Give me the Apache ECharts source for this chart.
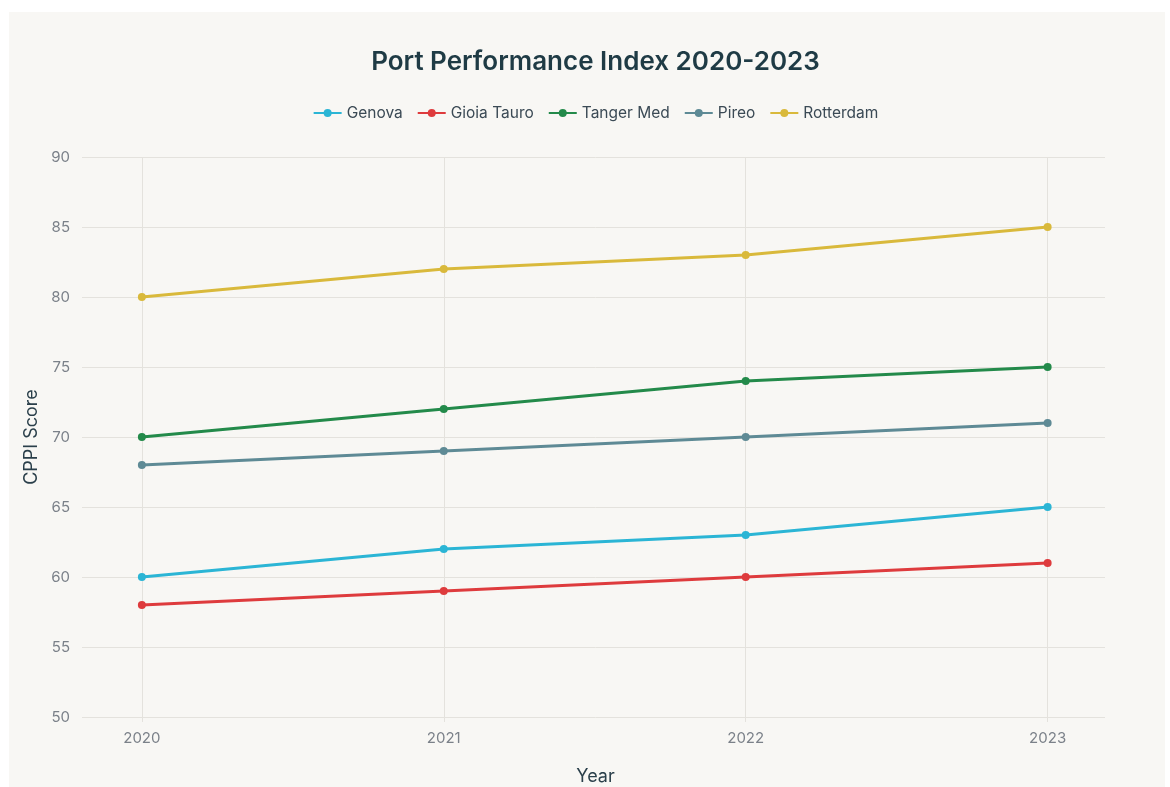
<!DOCTYPE html>
<html><head><meta charset="utf-8">
<script src="https://cdn.jsdelivr.net/npm/echarts@6/dist/echarts.min.js"></script>
<style>html,body{margin:0;padding:0;background:#fff;overflow:hidden;}#c{width:1191px;height:787px;}</style>
</head><body><div id="c"></div>
<script>
const years = [2020, 2021, 2022, 2023];
const genova = [60, 62, 63, 65];
const gioiaTauro = [58, 59, 60, 61];
const tangerMed = [70, 72, 74, 75];
const pireo = [68, 69, 70, 71];
const rotterdam = [80, 82, 83, 85];
const seriesNames = ['Genova', 'Gioia Tauro', 'Tanger Med', 'Pireo', 'Rotterdam'];
const seriesData = [genova, gioiaTauro, tangerMed, pireo, rotterdam];
const colors = ['#2bb5d5', '#de3b3d', '#238a4a', '#5e8a95', '#d9b93b'];

const chart = echarts.init(document.getElementById('c'));
const font = 'Inter, "Noto Sans", sans-serif';
chart.setOption({
  backgroundColor: '#ffffff',
  graphic: [{type: 'rect', z: -10, silent: true, shape: {x: 9, y: 12, width: 1156, height: 775}, style: {fill: '#f8f7f4'}}],
  title: {text: 'Port Performance Index 2020-2023', left: 'center', top: 44,
    textStyle: {fontFamily: font, fontSize: 26, fontWeight: 600, color: '#1f3b45'}},
  legend: {top: 100, left: 'center', itemWidth: 28, itemHeight: 10, itemGap: 14,
    textStyle: {fontFamily: font, fontSize: 15.5, color: '#3b4a55'}},
  grid: {left: 86, right: 86, top: 157, bottom: 70, outerBoundsMode: 'none', containLabel: false},
  xAxis: {type: 'value', min: 2019.815, max: 2023.19,
    name: 'Year', nameLocation: 'middle', nameGap: 51,
    nameTextStyle: {fontFamily: font, fontSize: 18, color: '#2a3f4a'},
    axisLine: {show: false},
    axisTick: {show: true, customValues: years, length: 5, lineStyle: {color: '#e4e2dd'}},
    axisLabel: {customValues: years, formatter: v => String(v), margin: 14,
      fontFamily: font, fontSize: 15, color: '#7b8189'},
    splitLine: {show: true, lineStyle: {color: '#e4e2dd', width: 1}}},
  yAxis: {type: 'value', min: 50, max: 90, interval: 5,
    name: 'CPPI Score', nameLocation: 'middle', nameGap: 45,
    nameTextStyle: {fontFamily: font, fontSize: 18, color: '#2a3f4a'},
    axisLine: {show: false},
    axisTick: {show: true, length: 4, lineStyle: {color: '#e4e2dd'}},
    axisLabel: {margin: 16, fontFamily: font, fontSize: 15, color: '#7b8189'},
    splitLine: {show: true, lineStyle: {color: '#e4e2dd', width: 1}}},
  series: seriesNames.map((n, i) => ({
    name: n, type: 'line', data: years.map((y, j) => [y, seriesData[i][j]]),
    symbol: 'circle', symbolSize: 8, color: colors[i],
    lineStyle: {width: 3, color: colors[i]}, itemStyle: {color: colors[i]}
  })),
  animation: false
});
</script></body></html>
